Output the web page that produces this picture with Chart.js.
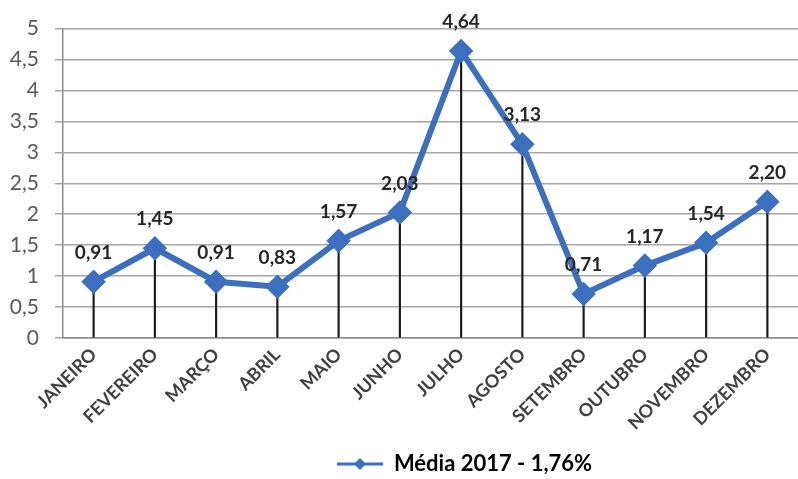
<!DOCTYPE html>
<html>
<head>
<meta charset="utf-8">
<script src="https://cdn.jsdelivr.net/npm/chart.js@4"></script>
<style>
  html, body { margin: 0; padding: 0; background: #fff; }
  #box { width: 798px; height: 479px; }
</style>
</head>
<body>
<div id="box"><canvas id="grafico"></canvas></div>
<script>
// dados do grafico
const meses = ['JANEIRO', 'FEVEREIRO', 'MARÇO', 'ABRIL', 'MAIO', 'JUNHO', 'JULHO', 'AGOSTO', 'SETEMBRO', 'OUTUBRO', 'NOVEMBRO', 'DEZEMBRO']
const valores = [0.91, 1.45, 0.91, 0.83, 1.57, 2.03, 4.64, 3.13, 0.71, 1.17, 1.54, 2.20]
const rotuloSerie = 'Média 2017 - 1,76%'
const yMin = 0
const yMax = 5
const yPasso = 0.5

const azul = '#3d6fbf'
const virgula = v => String(v).replace('.', ',')

// icone da legenda: linha com losango
const icone = document.createElement('canvas')
icone.width = 46
icone.height = 14
const ic = icone.getContext('2d')
ic.strokeStyle = azul
ic.lineWidth = 3
ic.beginPath(); ic.moveTo(0, 7); ic.lineTo(46, 7); ic.stroke()
ic.fillStyle = azul
ic.beginPath(); ic.moveTo(23, 1); ic.lineTo(29, 7); ic.lineTo(23, 13); ic.lineTo(17, 7); ic.closePath(); ic.fill()

// rotulos de dados acima dos pontos
const rotulos = {
    id: 'rotulos',
    afterDatasetsDraw(chart) {
        const meta = chart.getDatasetMeta(0)
        const ctx = chart.ctx
        ctx.save()
        ctx.font = 'bold 19px Lato'
        ctx.fillStyle = '#262626'
        ctx.textAlign = 'center'
        ctx.textBaseline = 'middle'
        meta.data.forEach((p, i) => {
            ctx.fillText(valores[i].toFixed(2).replace('.', ','), p.x, p.y - 29)
        })
        ctx.restore()
    }
}

// desloca a legenda para a direita, como no original
const moverLegenda = {
    id: 'moverLegenda',
    afterLayout(chart) {
        const lg = chart.legend
        if (lg) { lg.left += 64; lg.right += 64 }
    }
}

new Chart(document.getElementById('grafico'), {
    data: {
        labels: meses,
        datasets: [{
            type: 'line',
            label: rotuloSerie,
            data: valores,
            borderColor: azul,
            backgroundColor: azul,
            borderWidth: 6,
            pointStyle: 'rectRot',
            pointRadius: 8,
            pointHoverRadius: 8,
            tension: 0,
            order: 0
        }, {
            type: 'bar',
            label: 'linhas',
            data: valores,
            backgroundColor: '#1a1a1a',
            barThickness: 1.5,
            order: 1
        }]
    },
    options: {
        responsive: true,
        maintainAspectRatio: false,
        animation: false,
        layout: { autoPadding: false, padding: { top: 24, right: -3, left: 0, bottom: -6 } },
        plugins: {
            tooltip: { enabled: false },
            legend: {
                position: 'bottom',
                labels: {
                    font: { family: 'Lato', size: 22, weight: 'bold' },
                    color: '#262626',
                    usePointStyle: true,
                    pointStyleWidth: 46,
                    padding: 3,
                    generateLabels: chart => [{
                        text: rotuloSerie,
                        pointStyle: icone,
                        fillStyle: azul,
                        strokeStyle: azul,
                        lineWidth: 0,
                        datasetIndex: 0,
                        hidden: false
                    }]
                }
            }
        },
        scales: {
            x: {
                offset: true,
                afterFit: s => { s.height = 112; s.paddingRight = 0; s.paddingLeft = 0 },
                grid: { display: false, drawTicks: false },
                border: { color: '#8c8c8c', width: 1.5 },
                ticks: {
                    maxRotation: 45,
                    minRotation: 45,
                    padding: 6,
                    color: '#404040',
                    font: { family: 'Lato', size: 18, weight: 'bold' }
                }
            },
            y: {
                min: yMin,
                max: yMax,
                afterFit: s => { s.width = 63 },
                grid: { color: '#a6a6a6', lineWidth: 1.5, tickLength: 8 },
                border: { color: '#8c8c8c', width: 1.5 },
                ticks: {
                    stepSize: yPasso,
                    padding: 16,
                    color: '#595959',
                    font: { family: 'Lato', size: 21 },
                    callback: v => virgula(v)
                }
            }
        }
    },
    plugins: [rotulos, moverLegenda]
})
</script>
</body>
</html>
